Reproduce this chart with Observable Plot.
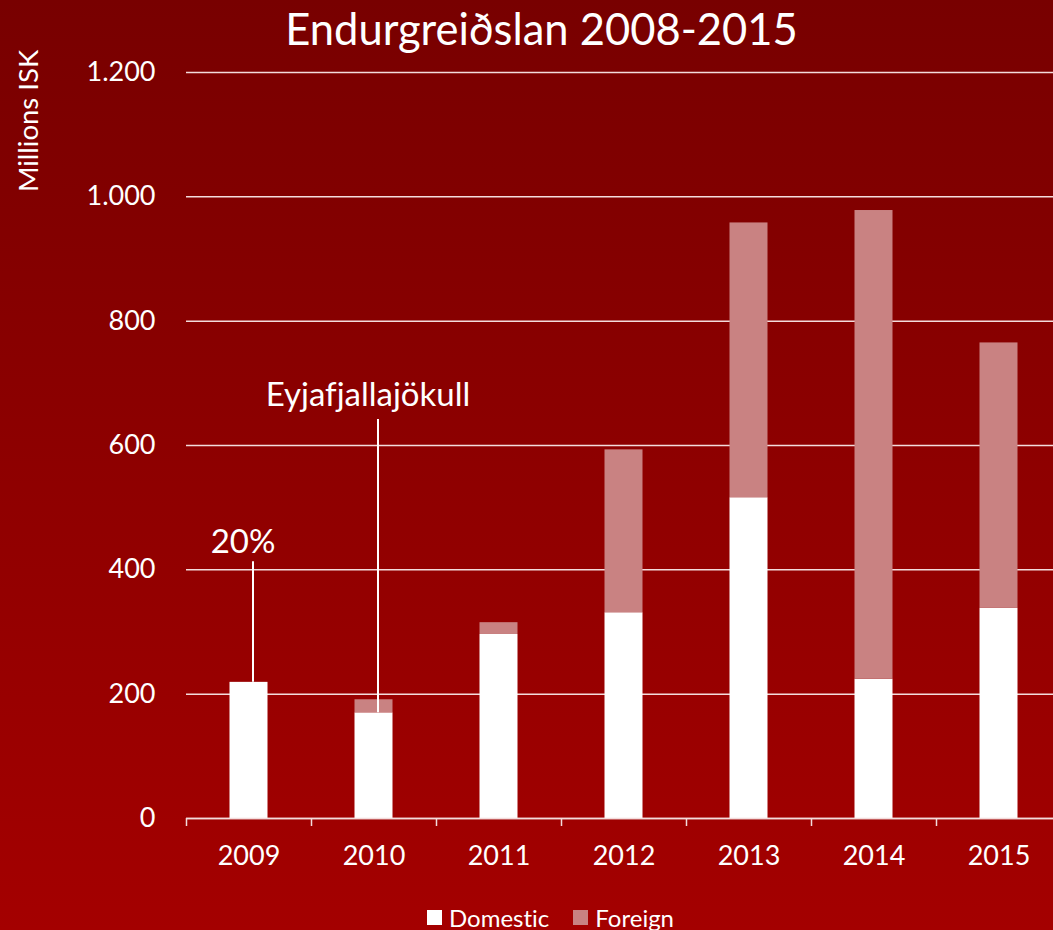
<!DOCTYPE html>
<html><head><meta charset="utf-8">
<script src="https://cdn.jsdelivr.net/npm/d3@7"></script>
<script src="https://cdn.jsdelivr.net/npm/@observablehq/plot@0.6"></script>
<style>
html,body{margin:0;padding:0;overflow:hidden;}
body{width:1053px;height:930px;background:linear-gradient(#780000,#a40000);font-family:Lato,"Open Sans",sans-serif;color:#fff;position:relative;font-variant-ligatures:none;}
#title{height:60px;line-height:56px;text-align:center;font-size:43.5px;padding-left:30px;box-sizing:border-box;white-space:nowrap;}
#ylabel{position:absolute;left:27px;top:121px;transform:translate(-50%,-50%) rotate(-90deg);font-size:27.5px;white-space:nowrap;}
#chart svg{display:block;font-variant-ligatures:none;}
#legend{position:absolute;left:427px;top:903px;display:flex;align-items:center;font-size:24px;white-space:nowrap;}
.sw{width:15px;height:15px;display:inline-block;margin-right:7px;}
.item{display:flex;align-items:center;margin-right:24px;}
</style>
</head><body>
<div id="title">Endurgreiðslan 2008-2015</div>
<div id="ylabel">Millions ISK</div>
<div id="chart"></div>
<div id="legend"></div>
<script>
const years = ["2009","2010","2011","2012","2013","2014","2015"];
const domestic = [219,170,296,331,516,224,338];
const foreign = [0,21,19,262,442,754,427];
const seriesNames = ["Domestic","Foreign"];
const seriesColors = ["#ffffff","#c98282"];
const yTicks = [0,200,400,600,800,1000,1200];
const annYears = ["2009","2010"];
const annLabels = ["20%","Eyjafjallajökull"];
const annLineTop = [413,642];
const annLineBottom = [219,170];
const annTextY = [444,681];

const data = [];
years.forEach((y,i)=>{
  data.push({year:y, series:"Domestic", value:domestic[i]});
  data.push({year:y, series:"Foreign", value:foreign[i]});
});
const ann = annYears.map((y,i)=>({year:y,label:annLabels[i],top:annLineTop[i],bottom:annLineBottom[i],ty:annTextY[i]}));

const W = 1053, H = 820;
const x0 = 186, x1 = 1061;
const step = (x1-x0)/years.length;
const fmt = d => d3.format(",")(d).replace(/,/g,".");

const chart = Plot.plot({
  width: W, height: H,
  marginTop: 12, marginBottom: 62, marginLeft: 186, marginRight: 0,
  style: {fontFamily: "Lato, 'Open Sans', sans-serif", background: "transparent", color: "white", overflow: "visible"},
  x: {type: "band", domain: years, range: [x0, x1], padding: 0, label: null},
  y: {domain: [0,1200], ticks: yTicks, label: null},
  color: {domain: seriesNames, range: seriesColors},
  marks: [
    Plot.gridY(yTicks, {stroke: "#f3dcdc", strokeOpacity: 1, strokeWidth: 1.5}),
    Plot.barY(data, {x: "year", y: "value", fill: "series", insetLeft: step*0.348, insetRight: step*0.348}),
    Plot.ruleY([0], {stroke: "#f3dcdc", strokeWidth: 1.5}),
    Plot.axisX({tickSize: 8, tickFormat: () => "", dx: -step/2, stroke: "#f3dcdc", strokeWidth: 1.5, label: null}),
    Plot.axisX({tickSize: 0, tickPadding: 27, fontSize: 27, fill: "white", label: null}),
    Plot.axisY(yTicks, {tickSize: 0, tickPadding: 31, tickFormat: fmt, fontSize: 27, fill: "white", label: null}),
    Plot.ruleX(ann, {x: "year", y1: "bottom", y2: "top", stroke: "white", strokeWidth: 2, dx: 4}),
    Plot.text(ann, {x: "year", y: "ty", text: "label", fill: "white", fontSize: 33, dx: -6})
  ]
});
document.getElementById("chart").appendChild(chart);

const leg = document.getElementById("legend");
seriesNames.forEach((n,i)=>{
  const it = document.createElement("div"); it.className="item";
  const sw = document.createElement("span"); sw.className="sw"; sw.style.background=seriesColors[i];
  it.appendChild(sw); it.appendChild(document.createTextNode(n));
  leg.appendChild(it);
});
</script>
</body></html>
